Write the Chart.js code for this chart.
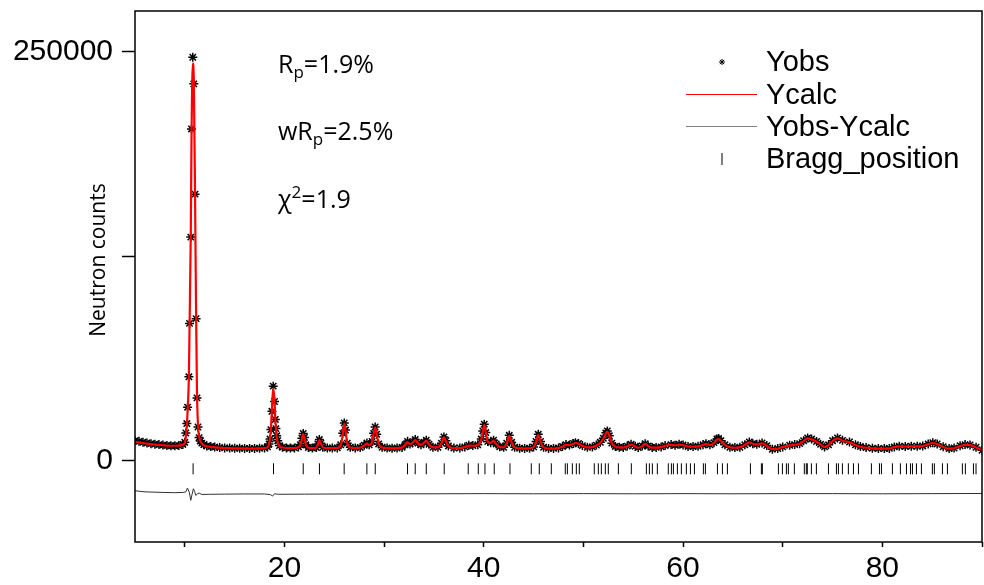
<!DOCTYPE html>
<html>
<head>
<meta charset="utf-8">
<script src="https://cdn.jsdelivr.net/npm/chart.js@4.4.1/dist/chart.umd.min.js"></script>
<style>
  html, body { margin: 0; padding: 0; background: #fff; overflow: hidden; }
  canvas { display: block; }
</style>
</head>
<body>
<canvas id="chart" width="984" height="585"></canvas>
<script>
// 2-theta grid (deg) shared by the observed and calculated profiles
const twoTheta = [
  5.0, 5.4, 5.8, 6.2, 6.6, 7.0, 7.4, 7.8, 8.2, 8.6, 9.0, 9.4, 9.8,
  10.0, 10.1, 10.2, 10.28, 10.41, 10.47, 10.6, 10.67, 10.8, 10.9, 11.03, 11.13, 11.22, 11.32, 11.43, 11.55, 11.7, 11.9, 12.2,
  12.6, 13.0, 13.5, 14.0, 14.5, 15.0, 15.5, 16.0, 16.5, 17.0, 17.5, 18.0, 18.3,
  18.45, 18.55, 18.64, 18.74, 18.87, 19.0, 19.08, 19.14, 19.22, 19.32, 19.5, 19.8,
  20.2, 20.6, 21.0, 21.4, 21.6, 21.75, 21.88, 22.0, 22.15, 22.4, 22.8, 23.2, 23.35, 23.5, 23.65, 23.85,
  24.3, 24.8, 25.3, 25.65, 25.85, 26.0, 26.12, 26.3, 26.6, 27.1, 27.6, 28.0, 28.27, 28.5, 28.8, 28.95,
  29.1, 29.25, 29.45, 29.8, 30.3, 30.8, 31.3, 31.8, 32.1, 32.35, 32.6, 32.85, 33.12, 33.4, 33.7, 34.0,
  34.23, 34.5, 34.9, 35.4, 35.75, 36.0, 36.2, 36.45, 37.0, 37.6, 38.1, 38.5, 38.9, 39.4, 39.75, 39.9,
  40.05, 40.2, 40.4, 40.7, 40.98, 41.25, 41.6, 42.0, 42.3, 42.56, 42.8, 43.1, 43.6, 44.1, 44.6, 45.0,
  45.25, 45.47, 45.7, 46.0, 46.5, 47.0, 47.5, 47.9, 48.25, 48.6, 49.0, 49.2, 49.5, 49.9, 50.4, 50.9,
  51.3, 51.7, 52.0, 52.25, 52.4, 52.6, 52.85, 53.2, 53.6, 54.0, 54.4, 54.78, 55.2, 55.5, 55.9, 56.2,
  56.5, 56.9, 57.3, 57.8, 58.2, 58.8, 59.2, 59.6, 60.0, 60.5, 61.0, 61.5, 62.0, 62.3, 62.7, 63.1,
  63.4, 63.57, 63.8, 64.2, 64.7, 65.2, 65.7, 66.2, 66.65, 67.0, 67.4, 67.93, 68.4, 68.96, 69.5, 70.0,
  70.7, 71.2, 71.7, 72.1, 72.5, 72.9, 73.4, 73.8, 74.2, 74.6, 75.0, 75.5, 76.0, 76.7, 77.3, 77.8,
  78.37, 79.0, 79.6, 80.2, 80.7, 81.2, 81.7, 82.3, 82.9, 83.5, 84.05, 84.6, 85.06, 85.5, 86.1, 86.7,
  87.2, 87.8, 88.3, 88.8, 89.4, 90.0
];
const yObs = [
  12000, 11600, 11000, 10600, 10200, 9900, 9600, 9300, 9100, 8900, 8900, 9000, 9700,
  11000, 16700, 22500, 32500, 51100, 83800, 136600, 202800, 246700, 230400, 162900, 86700, 38200, 20400, 13900, 11800, 10500, 9600, 8800,
  8400, 8100, 7800, 7600, 7500, 7400, 7400, 7300, 7300, 7300, 7400, 7600, 8200,
  10000, 13000, 18800, 30000, 45400, 36000, 25000, 19400, 15000, 12000, 9000, 8000,
  7600, 7500, 7600, 8200, 9500, 13500, 16400, 14000, 9500, 7800, 7500, 7800, 10000, 12700, 10500, 8000,
  7500, 7500, 7600, 9500, 16500, 22900, 18500, 10500, 8000, 7600, 7800, 9200, 10600, 9500, 11500, 16500,
  20400, 16000, 10000, 8000, 7500, 7400, 7500, 7900, 9500, 11600, 10000, 10800, 12700, 10500, 9500, 11000,
  12300, 9800, 8000, 8000, 10500, 14300, 12000, 8800, 7500, 7600, 8200, 9200, 9000, 9500, 13000, 18000,
  22100, 17000, 11500, 10800, 12300, 10000, 8300, 8000, 10500, 15300, 11000, 8000, 7400, 7300, 7400, 8200,
  11500, 15900, 11500, 8000, 7300, 7300, 7600, 8400, 9600, 9400, 10300, 10800, 10300, 9000, 8000, 8200,
  9300, 11000, 13500, 16800, 18000, 15000, 10500, 8500, 8000, 7900, 8700, 9800, 8600, 7800, 8800, 10200,
  8800, 7900, 7900, 8200, 9000, 9600, 9200, 9800, 9400, 8500, 8400, 8600, 9500, 10200, 9500, 10800,
  13000, 13300, 12000, 9500, 8000, 7800, 8000, 9500, 11200, 10200, 9800, 10600, 9000, 6800, 7200, 8200,
  9200, 9600, 10200, 12000, 13700, 13000, 11500, 9800, 8200, 9500, 12000, 13700, 12200, 11200, 9500, 8400,
  7800, 7400, 7200, 7200, 7300, 8200, 8600, 8500, 8600, 8600, 8800, 10000, 10800, 10000, 8300, 7200,
  7500, 8900, 9600, 9400, 8000, 6100
];
const yCalc = [
  11300, 11000, 10600, 10200, 9900, 9600, 9400, 9200, 9000, 8900, 8900, 9000, 9600,
  10600, 14500, 21000, 30500, 52000, 80000, 140000, 196000, 243000, 233000, 160000, 90000, 42000, 22000, 14600, 11900, 10300, 9300, 8600,
  8200, 7900, 7700, 7500, 7400, 7300, 7300, 7200, 7200, 7200, 7300, 7500, 8000,
  9800, 13500, 19500, 31000, 44000, 37000, 25500, 19000, 14000, 11000, 8600, 7800,
  7500, 7400, 7500, 8000, 9300, 13200, 16000, 13800, 9400, 7700, 7400, 7700, 9800, 12300, 10300, 7900,
  7400, 7400, 7500, 9300, 16000, 22500, 18700, 10400, 7900, 7500, 7700, 9000, 10400, 9300, 11300, 16200,
  20000, 16200, 9900, 7900, 7400, 7300, 7400, 7800, 9300, 11200, 9800, 10600, 12300, 10400, 9400, 10800,
  12000, 9700, 7900, 7900, 10300, 14000, 11800, 8700, 7400, 7500, 8100, 9000, 8900, 9400, 12600, 17500,
  21500, 17200, 11300, 10600, 12100, 9900, 8200, 7900, 10300, 15000, 10900, 7900, 7300, 7200, 7300, 8100,
  11200, 15500, 11400, 7900, 7200, 7200, 7500, 8300, 9400, 9300, 10100, 10600, 10200, 8900, 7900, 8100,
  9100, 10800, 13200, 16500, 17600, 15000, 10400, 8400, 7900, 7800, 8600, 9600, 8500, 7700, 8700, 10000,
  8700, 7800, 7800, 8100, 8900, 9400, 9100, 9600, 9300, 8400, 8300, 8500, 9400, 10000, 9400, 10600,
  12700, 13000, 11900, 9400, 7900, 7700, 7900, 9400, 11000, 10100, 9700, 10400, 8900, 6800, 7100, 8100,
  9100, 9500, 10000, 11800, 13400, 12800, 11400, 9700, 8100, 9300, 11800, 13400, 12000, 11000, 9400, 8300,
  7700, 7300, 7100, 7100, 7200, 8100, 8500, 8400, 8500, 8500, 8700, 9800, 10600, 9900, 8200, 7100,
  7400, 8700, 9400, 9300, 7900, 6100
];
// difference curve, already shifted below the pattern
const diffTheta = [5.0, 5.5, 6.0, 7.0, 8.0, 9.0, 9.8, 10.1, 10.26, 10.45, 10.6, 10.72, 10.86, 10.98, 11.1, 11.25, 11.43, 11.7, 12.5, 14.0, 16.0, 18.0, 18.6, 18.8, 19.0, 19.4, 22.0, 26.0, 30.0, 35.0, 40.0, 45.0, 50.0, 55.0, 60.0, 65.0, 70.0, 75.0, 80.0, 85.0, 90.0];
const yDiff = [-18600, -19000, -19300, -19500, -19700, -19800, -19700, -19300, -17000, -19500, -24500, -21000, -17400, -19000, -21500, -20600, -20000, -20900, -20800, -20700, -20600, -20600, -21000, -21900, -20500, -20800, -20700, -20600, -20500, -20500, -20400, -20500, -20400, -20500, -20400, -20500, -20400, -20400, -20500, -20400, -20300];
// reflection positions (deg)
const braggPos = [
  10.83, 18.9, 21.88, 23.51, 25.99, 28.27, 29.11, 32.35, 33.12, 34.23, 36.03, 38.44, 39.45, 40.12, 41.05, 42.63,
  44.77, 45.57, 46.78, 48.18, 48.39, 48.89, 49.29, 49.59, 51.09, 51.5, 51.8, 52.2, 52.5, 53.51, 54.81, 56.32,
  56.62, 56.92, 57.42, 58.52, 58.83, 59.03, 59.43, 59.83, 60.33, 60.74, 61.14, 62.04, 62.24, 63.45, 63.95, 64.45,
  66.76, 67.86, 67.96, 69.57, 69.97, 70.37, 70.57, 71.17, 72.17, 72.37, 72.47, 72.88, 73.38, 74.59, 75.39, 75.59,
  75.99, 76.59, 77.1, 77.6, 78.9, 79.71, 79.91, 81.01, 81.81, 82.42, 82.82, 83.02, 83.42, 83.92, 85.02, 85.22,
  86.03, 86.53, 88.03, 88.33, 89.14, 89.4
];
const braggLevel = -5200;

const xTicks = [10, 20, 30, 40, 50, 60, 70, 80, 90];
const xLabels = [20, 40, 60, 80];
const yTicks = [0, 125000, 250000];
const yLabels = [0, 250000];
const seriesNames = ['Yobs', 'Ycalc', 'Yobs-Ycalc', 'Bragg_position'];
const yTitle = 'Neutron counts';
// fit statistics, pieces: [text, 'sub' | 'sup' | '']
const fitNotes = [
  [['R', ''], ['p', 'sub'], ['=1.9%', '']],
  [['wR', ''], ['p', 'sub'], ['=2.5%', '']],
  [['\u03C7', ''], ['2', 'sup'], ['=1.9', '']]
];

const SANS = '"Liberation Sans", Arial, sans-serif';
const NOTE_FONT = '"Open Sans", sans-serif';

const pairs = (xs, ys) => xs.map((x, i) => ({ x: x, y: ys[i] }));

function noPadding(s) {
  s.paddingTop = 0; s.paddingBottom = 0; s.paddingLeft = 0; s.paddingRight = 0;
}

const framePlugin = {
  id: 'frame',
  afterDraw(chart) {
    const { ctx, chartArea: a } = chart;
    ctx.save();
    ctx.strokeStyle = '#000';
    ctx.lineWidth = 1.5;
    ctx.strokeRect(a.left, a.top, a.right - a.left, a.bottom - a.top);
    ctx.restore();
  }
};

const textPlugin = {
  id: 'texts',
  afterDraw(chart) {
    const ctx = chart.ctx;
    ctx.save();
    ctx.fillStyle = '#000';
    ctx.textBaseline = 'alphabetic';

    // y title
    ctx.save();
    ctx.font = '21px ' + NOTE_FONT;
    ctx.textAlign = 'center';
    ctx.translate(105, 260);
    ctx.rotate(-Math.PI / 2);
    ctx.fillText(yTitle, 0, 0);
    ctx.restore();

    // fit statistics
    const baselines = [73, 140, 208];
    ctx.textAlign = 'left';
    fitNotes.forEach((parts, i) => {
      let x = 278;
      parts.forEach(([t, kind]) => {
        let dy = 0;
        if (kind === 'sub') { ctx.font = '17px ' + NOTE_FONT; dy = 5; }
        else if (kind === 'sup') { ctx.font = '17px ' + NOTE_FONT; dy = -10; }
        else ctx.font = '25px ' + NOTE_FONT;
        ctx.fillText(t, x, baselines[i] + dy);
        x += ctx.measureText(t).width;
      });
    });

    // legend
    const rows = [71, 103.5, 135.5, 168];
    ctx.font = '29px ' + SANS;
    chart.data.datasets.forEach((ds, i) => {
      const y = rows[i];
      const mid = y - 9;
      if (i === 0) {
        ctx.strokeStyle = '#000';
        Chart.helpers.drawPoint(ctx, { pointStyle: 'star', radius: 3, borderWidth: 1 }, 722, mid);
      } else if (i === 3) {
        ctx.strokeStyle = '#000';
        ctx.lineWidth = 1;
        ctx.beginPath();
        ctx.moveTo(722, mid - 6);
        ctx.lineTo(722, mid + 6);
        ctx.stroke();
      } else {
        ctx.strokeStyle = i === 1 ? '#ff0000' : '#808080';
        ctx.lineWidth = 1;
        ctx.beginPath();
        ctx.moveTo(686, mid);
        ctx.lineTo(757, mid);
        ctx.stroke();
      }
      ctx.fillStyle = '#000';
      ctx.fillText(ds.label, 766, y);
    });
    ctx.restore();
  }
};

new Chart(document.getElementById('chart'), {
  type: 'scatter',
  data: {
    datasets: [
      {
        label: seriesNames[0],
        data: pairs(twoTheta, yObs),
        pointStyle: 'star',
        pointRadius: 4.5,
        borderColor: '#000',
        backgroundColor: '#000',
        pointBorderWidth: 1.5,
        showLine: false,
        order: 1
      },
      {
        label: seriesNames[1],
        data: pairs(twoTheta, yCalc),
        showLine: true,
        borderColor: '#ff0000',
        borderWidth: 2.2,
        pointRadius: 0,
        cubicInterpolationMode: 'monotone',
        order: 0
      },
      {
        label: seriesNames[2],
        data: pairs(diffTheta, yDiff),
        showLine: true,
        borderColor: '#303030',
        borderWidth: 1,
        pointRadius: 0,
        order: 2
      },
      {
        label: seriesNames[3],
        data: braggPos.map(x => ({ x: x, y: braggLevel })),
        pointStyle: 'line',
        rotation: 90,
        pointRadius: 5.5,
        borderColor: '#000',
        pointBorderWidth: 1,
        showLine: false,
        order: 3
      }
    ]
  },
  options: {
    responsive: false,
    animation: false,
    layout: { autoPadding: false, padding: { top: 11, right: 2, left: 0, bottom: 0 } },
    plugins: { legend: { display: false }, tooltip: { enabled: false } },
    scales: {
      x: {
        type: 'linear',
        min: 5,
        max: 90,
        afterBuildTicks: s => { s.ticks = xTicks.map(v => ({ value: v })); },
        afterFit: s => { s.height = 43; noPadding(s); },
        border: { display: false },
        grid: { drawOnChartArea: false, tickLength: 5, tickColor: '#000', tickWidth: 1.5 },
        ticks: {
          color: '#000',
          font: { family: SANS, size: 30 },
          padding: 4,
          maxRotation: 0,
          autoSkip: false,
          callback: v => xLabels.includes(v) ? String(v) : ''
        }
      },
      y: {
        min: -50000,
        max: 275000,
        afterBuildTicks: s => { s.ticks = yTicks.map(v => ({ value: v })); },
        afterFit: s => { s.width = 135; noPadding(s); },
        border: { display: false },
        grid: { drawOnChartArea: false, tickLength: 13, tickColor: '#000', tickWidth: 1.5 },
        ticks: {
          color: '#000',
          font: { family: SANS, size: 30 },
          padding: 9,
          autoSkip: false,
          callback: v => yLabels.includes(v) ? String(v) : ''
        }
      }
    }
  },
  plugins: [framePlugin, textPlugin]
});
</script>
</body>
</html>
